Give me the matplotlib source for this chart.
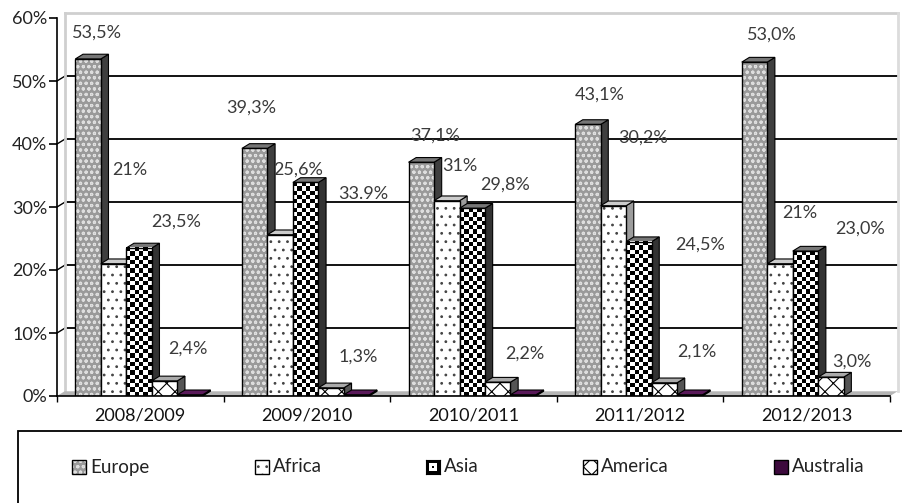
import numpy as np
import matplotlib
matplotlib.use('Agg')
import matplotlib.pyplot as plt
from matplotlib.patches import Polygon, Rectangle

plt.rcParams['font.family'] = ['Lato', 'DejaVu Sans']
plt.rcParams['hatch.linewidth'] = 0.8

years = ['2008/2009', '2009/2010', '2010/2011', '2011/2012', '2012/2013']
regions = ['Europe', 'Africa', 'Asia', 'America', 'Australia']
europe = [53.5, 39.3, 37.1, 43.1, 53.0]
africa = [21, 25.6, 31, 30.2, 21]
asia = [23.5, 33.9, 29.8, 24.5, 23.0]
america = [2.4, 1.3, 2.2, 2.1, 3.0]
australia = [0.2, 0.2, 0.2, 0.2, 0.0]

# decimals shown in the value labels (Australia has none)
europe_dec = [1, 1, 1, 1, 1]
africa_dec = [0, 1, 0, 1, 0]
asia_dec = [1, 1, 1, 1, 1]
america_dec = [1, 1, 1, 1, 1]
asia_sep = [',', '.', ',', ',', ',']

# where each value label sits: x inside the category, y in percent
lab_x = {
    'Europe':  [0.240, 0.164, 0.269, 0.259, 0.292],
    'Africa':  [0.438, 0.447, 0.419, 0.517, 0.460],
    'Asia':    [0.714, 0.837, 0.689, 0.860, 0.820],
    'America': [0.786, 0.807, 0.809, 0.842, 0.772],
}
lab_y = {
    'Europe':  [57.6, 45.7, 41.3, 47.8, 57.3],
    'Africa':  [35.9, 35.9, 36.5, 41.0, 29.0],
    'Asia':    [27.6, 32.1, 33.5, 24.1, 26.5],
    'America': [7.5, 6.3, 6.8, 7.1, 5.4],
}

BW = 0.153      # bar width, in category units
OFF = 0.11      # gap before the first bar
DX = 0.046      # 3d depth, x
DY = 0.75       # 3d depth, y (percent)

fig = plt.figure(figsize=(9.02, 5.03), dpi=100)
ax = fig.add_axes([57 / 902, 1 - 396 / 503, 833 / 902, 378 / 503])
ax.set_xlim(0, 5)
ax.set_ylim(0, 60)

# back wall and gridlines
for v in range(10, 60, 10):
    ax.plot([DX, 5 + DX], [v + DY, v + DY], color='black', lw=1.3, zorder=1, clip_on=False)
    ax.plot([0, DX], [v, v + DY], color='black', lw=1.0, zorder=1, clip_on=False)
ax.plot([DX, 5 + DX], [60 + DY, 60 + DY], color='#cfcfcf', lw=2, zorder=1, clip_on=False)
ax.plot([DX, DX], [DY, 60 + DY], color='#cfcfcf', lw=2, zorder=1, clip_on=False)
ax.plot([5 + DX, 5 + DX], [DY, 60 + DY], color='#dcdcdc', lw=2, zorder=1, clip_on=False)
ax.add_patch(Polygon([(0, 0), (5, 0), (5 + DX, DY), (DX, DY)], closed=True,
                     fc='#b5b5b5', ec='none', zorder=2, clip_on=False))

px_x = 833 / 5
px_y = 378 / 60


def checker(rows, cols):
    return (np.indices((rows, cols)).sum(axis=0) % 2).astype(float)


def bar3d(x0, h, face, side, top, hatch=None, hcol='black', check=False):
    w = BW
    ax.add_patch(Polygon([(x0 + w, 0), (x0 + w + DX, DY), (x0 + w + DX, h + DY), (x0 + w, h)],
                         closed=True, fc=side, ec='black', lw=0.8, zorder=3))
    ax.add_patch(Polygon([(x0, h), (x0 + DX, h + DY), (x0 + w + DX, h + DY), (x0 + w, h)],
                         closed=True, fc=top, ec='black', lw=0.8, zorder=3))
    if check:
        cols = 6
        rows = max(1, int(round(h * px_y / (w * px_x / cols))))
        ax.imshow(checker(rows, cols), cmap='gray', extent=(x0, x0 + w, 0, h),
                  interpolation='nearest', aspect='auto', zorder=3)
    else:
        ax.add_patch(Rectangle((x0, 0), w, h, fc=face, ec=hcol, hatch=hatch, lw=0, zorder=3))
    ax.add_patch(Rectangle((x0, 0), w, h, fill=False, ec='black', lw=1.0, zorder=3))


styles = {
    'Europe':    dict(face='#9a9a9a', side='#3f3f3f', top='#767676', hatch='ooo', hcol='#dedede'),
    'Africa':    dict(face='white', side='#9c9c9c', top='#cccccc', hatch='..', hcol='#444444'),
    'Asia':      dict(face='white', side='#333333', top='#777777', check=True),
    'America':   dict(face='white', side='#555555', top='#aaaaaa', hatch='xx', hcol='black'),
    'Australia': dict(face='#3d0a3d', side='#2a062a', top='#5a1a5a'),
}
series = {'Europe': europe, 'Africa': africa, 'Asia': asia, 'America': america, 'Australia': australia}

for i in range(len(years)):
    for j, r in enumerate(regions):
        h = series[r][i]
        if h <= 0:
            continue
        bar3d(i + OFF + j * BW, h, **styles[r])


def fmt(v, d, sep=','):
    return f'{v:.{d}f}'.replace('.', sep) + '%'


decs = {'Europe': europe_dec, 'Africa': africa_dec, 'Asia': asia_dec, 'America': america_dec}
for r in ['Europe', 'Africa', 'Asia', 'America']:
    for i in range(len(years)):
        sep = asia_sep[i] if r == 'Asia' else ','
        ax.text(i + lab_x[r][i], lab_y[r][i], fmt(series[r][i], decs[r][i], sep),
                ha='center', va='center', fontsize=13, color='#3a3a3a', zorder=5)

# axes
ax.set_yticks(range(0, 61, 10))
ax.set_yticklabels([f'{v}%' for v in range(0, 61, 10)], fontsize=13, color='#222222')
ax.tick_params(axis='y', length=6, width=1.2, direction='out', pad=1)
ax.set_xticks(range(6))
ax.set_xticklabels([])
ax.tick_params(axis='x', which='major', length=4, width=1.0, direction='out')
ax.set_xticks(np.arange(5) + 0.5, minor=True)
ax.set_xticklabels(years, minor=True, fontsize=13, color='#111111')
ax.tick_params(axis='x', which='minor', length=0, pad=8)
for s in ['top', 'right']:
    ax.spines[s].set_visible(False)
ax.spines['left'].set_linewidth(1.2)
ax.spines['bottom'].set_linewidth(1.2)
ax.spines['left'].set_zorder(4)
ax.spines['bottom'].set_zorder(4)
ax.patch.set_visible(False)

# legend box below the chart
fig.add_artist(Rectangle((18 / 902, -0.2), 1.0, 0.2 + (503 - 431) / 503, transform=fig.transFigure,
                         fill=False, ec='black', lw=1.3, clip_on=False))

leg_x = [72, 255, 426, 583, 774]
leg_y = 467
sz = 14
for r, lx in zip(regions, leg_x):
    st = styles[r]
    fx, fy = lx / 902, 1 - (leg_y + sz / 2) / 503
    fw, fh = sz / 902, sz / 503
    if st.get('check'):
        mark = np.ones((5, 5))
        mark[1:4, 1:4] = 0
        mark[2, 2] = 1
        mark = 1 - mark
        lax = fig.add_axes([fx, fy, fw, fh])
        lax.imshow(mark, cmap='gray', interpolation='nearest', aspect='auto')
        lax.set_xticks([])
        lax.set_yticks([])
        for s in lax.spines.values():
            s.set_linewidth(0.8)
    else:
        fig.add_artist(Rectangle((fx, fy), fw, fh, transform=fig.transFigure, fc=st['face'],
                                 ec=st.get('hcol', 'black'), hatch=st.get('hatch'), lw=0))
        fig.add_artist(Rectangle((fx, fy), fw, fh, transform=fig.transFigure, fill=False,
                                 ec='black', lw=1.0))
    fig.text((lx + sz + 4) / 902, 1 - leg_y / 503, r, ha='left', va='center',
             fontsize=13.5, color='#222222')

fig.savefig('out.png', dpi=100)
